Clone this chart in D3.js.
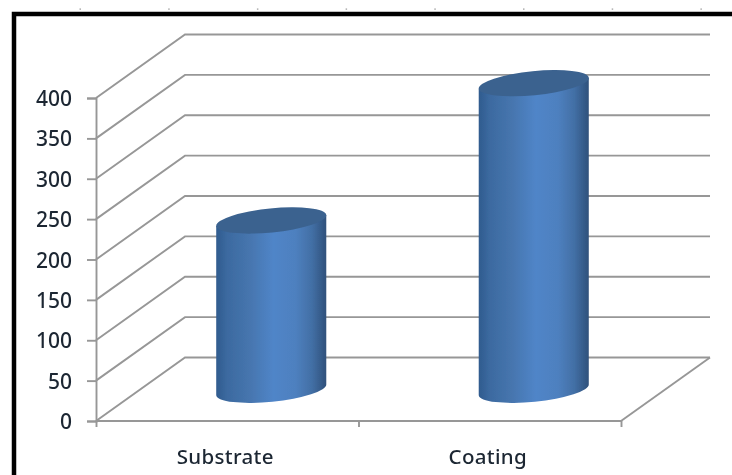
<!DOCTYPE html>
<html><head><meta charset="utf-8">
<script src="https://cdn.jsdelivr.net/npm/d3@7"></script>
<style>html,body{margin:0;padding:0;background:#fff;overflow:hidden}svg{display:block}text{font-family:"Noto Sans","Open Sans",sans-serif;fill:#1c2733;font-weight:500}</style>
</head><body><svg id="c" width="732" height="475"></svg>
<script>
const categories = ["Substrate", "Coating"];
const seriesValues = [209, 379];
const tickValues = [0, 50, 100, 150, 200, 250, 300, 350, 400];

const depthX = 89, depthY = -63.5;
const y = d3.scaleLinear().domain([0, 400]).range([421, 98]);
const x = d3.scaleBand().domain(categories).range([96, 621]);
const svg = d3.select("#c");

const defs = svg.append("defs");
defs.append("filter").attr("id", "soft").attr("filterUnits", "userSpaceOnUse")
  .attr("x", 0).attr("y", 0).attr("width", 732).attr("height", 475)
  .append("feGaussianBlur").attr("stdDeviation", 0.55);
const grad = defs.append("linearGradient").attr("id", "cyl");
[[0, "#2f5b8e"], [0.1, "#3c6aa0"], [0.3, "#4675ae"], [0.52, "#5085c8"], [0.72, "#4e80bf"], [0.87, "#426fa5"], [1, "#2f517b"]]
  .forEach(([o, c]) => grad.append("stop").attr("offset", o).attr("stop-color", c));

const g = svg.append("g").attr("filter", "url(#soft)");

// frame
g.append("rect").attr("x", 14).attr("y", 14).attr("width", 800).attr("height", 600)
  .attr("fill", "#fff").attr("stroke", "#000").attr("stroke-width", 4.5);

// faint marks above the frame
g.append("g").selectAll("rect").data(d3.range(8)).join("rect")
  .attr("x", i => 79.5 + i * 88.7).attr("y", 8.5).attr("width", 1.5).attr("height", 1.2).attr("fill", "#999");

const gridColor = "#979797";
const [x0, x1] = x.range();

// gridlines: side wall + back wall
g.append("g").selectAll("path").data(tickValues).join("path")
  .attr("fill", "none").attr("stroke", gridColor).attr("stroke-width", 1.9)
  .attr("d", d => d3.line()([[x0, y(d)], [x0 + depthX, y(d) + depthY], [x1 + depthX, y(d) + depthY]]));

// floor edge
g.append("path").attr("fill", "none").attr("stroke", gridColor).attr("stroke-width", 1.9)
  .attr("d", d3.line()([[x1, y(0)], [x1 + depthX, y(0) + depthY]]));

// axes
const yAxis = g.append("g").attr("transform", `translate(${x0},0)`)
  .call(d3.axisLeft(y).tickValues(tickValues).tickSize(9).tickPadding(15));
const xAxis = g.append("g").attr("transform", `translate(0,${y(0)})`)
  .call(d3.axisBottom(d3.scaleLinear().domain([0, categories.length]).range([x0, x1]))
    .tickValues(d3.range(categories.length + 1)).tickSize(6).tickFormat(""));
xAxis.select(".domain").attr("d", `M${x0},0H${x1}`);
[yAxis, xAxis].forEach(a => {
  a.selectAll("line,.domain").attr("stroke", gridColor).attr("stroke-width", 1.9);
});
yAxis.selectAll("text").style("font-size", "21px").attr("dy", "0.36em");

// category labels
g.append("g").selectAll("text").data(categories).join("text")
  .attr("x", d => x(d) + x.bandwidth() / 2 - 2)
  .attr("y", 464)
  .attr("text-anchor", "middle")
  .style("font-size", "20.5px")
  .style("letter-spacing", "0.3px")
  .text(d => d);

// cylinders
const rx = 55.3, ry = 12, rot = -5.7;
const a = rot * Math.PI / 180;
const ex = rx * Math.cos(a), ey = rx * Math.sin(a);
const bars = g.append("g").selectAll("g").data(categories.map((c, i) => ({ c, v: seriesValues[i] }))).join("g")
  .attr("transform", d => `translate(${x(d.c) + x.bandwidth() / 2 + depthX / 2 - 0.5},0)`);
const midDepth = depthY / 2;
bars.append("path").attr("fill", "url(#cyl)")
  .attr("d", d => {
    const t = y(d.v) + midDepth, b = y(0) + midDepth + 0.5;
    return `M${-ex},${t - ey}L${-ex},${b - ey}A${rx},${ry} ${rot} 0 0 ${ex},${b + ey}L${ex},${t + ey}Z`;
  });
bars.append("ellipse").attr("fill", "#3b628f")
  .attr("rx", rx).attr("ry", ry)
  .attr("transform", d => `translate(0,${y(d.v) + midDepth}) rotate(${rot})`);
</script></body></html>
